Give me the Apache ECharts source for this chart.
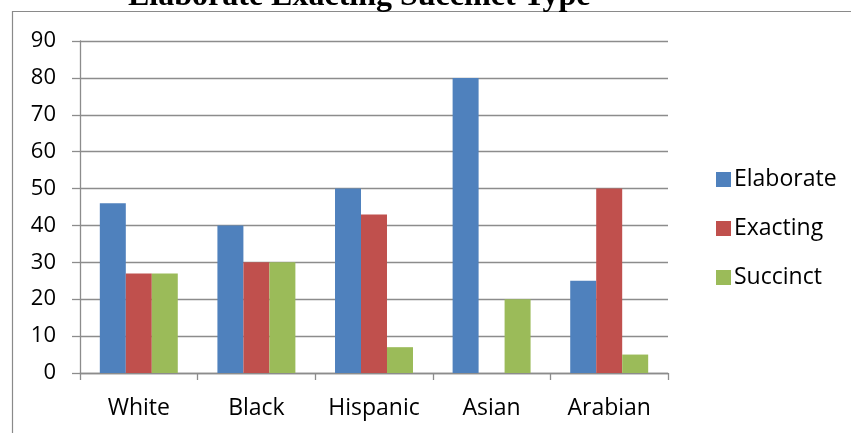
<!DOCTYPE html>
<html>
<head>
<meta charset="utf-8">
<script src="https://cdn.jsdelivr.net/npm/echarts@6/dist/echarts.min.js"></script>
<style>
  html, body { margin: 0; padding: 0; background: #ffffff; }
  #chart { width: 851px; height: 433px; }
</style>
</head>
<body>
<div id="chart"></div>
<script>
// Groups along the category axis
const categories = ['White', 'Black', 'Hispanic', 'Asian', 'Arabian'];

// Counts per type for each group
const elaborate = [46, 40, 50, 80, 25];
const exacting  = [27, 30, 43, 0, 50];
const succinct  = [27, 30, 7, 20, 5];

// Value axis range
const yMin = 0;
const yMax = 90;
const yStep = 10;

const chart = echarts.init(document.getElementById('chart'), null, { renderer: 'canvas' });

const sansFont = '"Open Sans", "Liberation Sans", sans-serif';
const gridGray = '#8c8c8c';

chart.setOption({
  animation: false,
  backgroundColor: '#ffffff',
  title: {
    text: 'Elaborate Exacting Succinct Type',
    left: 128,
    top: -19,
    padding: 0,
    textStyle: {
      fontFamily: '"Liberation Serif", "Times New Roman", serif',
      fontWeight: 'bold',
      fontSize: 32,
      color: '#000000'
    }
  },
  graphic: [
    {
      type: 'rect',
      silent: true,
      shape: { x: 12.5, y: 11.5, width: 900, height: 500 },
      style: { fill: 'none', stroke: '#8a8a8a', lineWidth: 1.2 }
    }
  ],
  legend: {
    orient: 'vertical',
    left: 711,
    top: 163,
    itemWidth: 15,
    itemHeight: 15,
    itemGap: 26,
    itemStyle: { borderWidth: 0 },
    icon: 'rect',
    textStyle: {
      fontFamily: sansFont,
      fontSize: 23,
      lineHeight: 22,
      color: '#000000',
      padding: [0, 0, 0, -2]
    },
    data: ['Elaborate', 'Exacting', 'Succinct']
  },
  grid: {
    left: 80,
    right: 183,
    top: 41,
    bottom: 60,
    containLabel: false
  },
  xAxis: {
    type: 'category',
    data: categories,
    axisLine: { show: true, lineStyle: { color: gridGray, width: 1.3 } },
    axisTick: { show: true, length: 7, alignWithLabel: false, lineStyle: { color: gridGray, width: 1.3 } },
    axisLabel: {
      interval: 0,
      hideOverlap: false,
      margin: 24,
      fontFamily: sansFont,
      fontSize: 23,
      color: '#000000'
    },
    splitLine: { show: false }
  },
  yAxis: {
    type: 'value',
    min: yMin,
    max: yMax,
    interval: yStep,
    axisLine: { show: true, lineStyle: { color: gridGray, width: 1.3 } },
    axisTick: { show: true, length: 8, lineStyle: { color: gridGray, width: 1.3 } },
    axisLabel: {
      margin: 24,
      fontFamily: sansFont,
      fontSize: 22,
      color: '#000000'
    },
    splitLine: { show: true, lineStyle: { color: gridGray, width: 1.3 } }
  },
  series: [
    {
      name: 'Elaborate',
      type: 'bar',
      data: elaborate,
      barGap: '0%',
      barCategoryGap: '33.7%',
      itemStyle: { color: '#4F81BD' }
    },
    {
      name: 'Exacting',
      type: 'bar',
      data: exacting,
      barGap: '0%',
      barCategoryGap: '33.7%',
      itemStyle: { color: '#C0504D' }
    },
    {
      name: 'Succinct',
      type: 'bar',
      data: succinct,
      barGap: '0%',
      barCategoryGap: '33.7%',
      itemStyle: { color: '#9BBB59' }
    }
  ]
});
</script>
</body>
</html>
